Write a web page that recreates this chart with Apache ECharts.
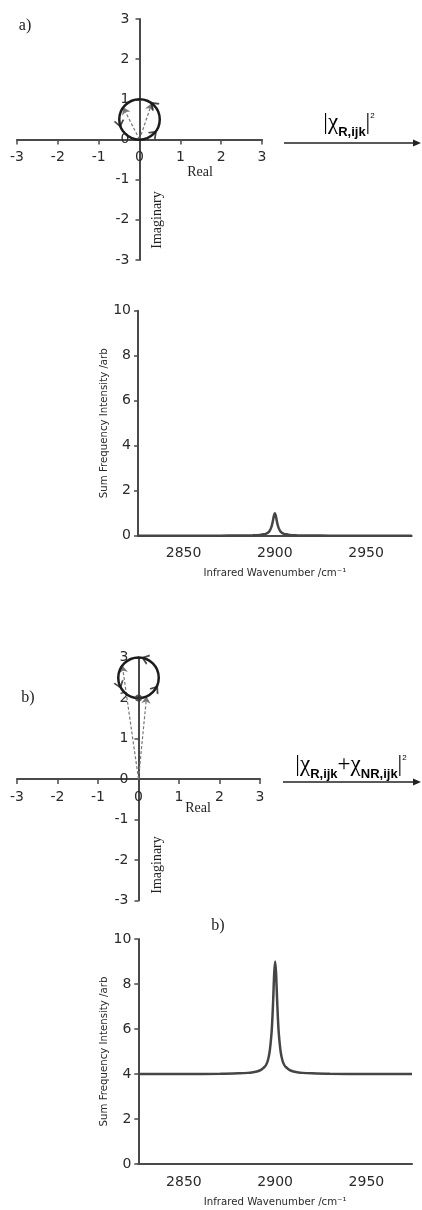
<!DOCTYPE html>
<html><head><meta charset="utf-8">
<script src="https://cdn.jsdelivr.net/npm/echarts@6/dist/echarts.min.js"></script>
<style>html,body{margin:0;padding:0;background:#fff}#c{width:422px;height:1210px}</style>
</head><body><div id="c"></div>
<script>
// ---- data ----
const wavenumber = [2825, 2850, 2870, 2880, 2885, 2888, 2890, 2892, 2894, 2895, 2896, 2897, 2898, 2898.5, 2899, 2899.5, 2900,
  2900.5, 2901, 2901.5, 2902, 2903, 2904, 2905, 2906, 2908, 2910, 2912, 2915, 2920, 2930, 2950, 2975];
const intensityA = [0, 0, 0.003, 0.006, 0.01, 0.015, 0.022, 0.034, 0.06, 0.08, 0.12, 0.2, 0.36, 0.5, 0.69, 0.9, 1.0,
  0.9, 0.69, 0.5, 0.36, 0.2, 0.12, 0.08, 0.06, 0.034, 0.022, 0.015, 0.01, 0.006, 0.003, 0, 0];
const intensityB = [4.0, 4.0, 4.01, 4.03, 4.05, 4.08, 4.11, 4.17, 4.3, 4.4, 4.6, 5.0, 5.8, 6.5, 7.45, 8.5, 9.0,
  8.5, 7.45, 6.5, 5.8, 5.0, 4.6, 4.4, 4.3, 4.17, 4.11, 4.08, 4.05, 4.03, 4.01, 4.0, 4.0];
const xTickLabels = [2850, 2900, 2950];
const yTickLabels = [0, 2, 4, 6, 8, 10];
const argandTicks = [-3, -2, -1, 0, 1, 2, 3];
// circle: [centre real, centre imaginary, radius]
const circleA = [0, 0.5, 0.5];
const circleB = [0, 2.5, 0.5];
// dashed vectors from origin to these points
const vectorsA = [[-0.4, 0.8], [0.3, 0.9]];
const vectorsB = [[-0.4, 2.8], [0.2, 2.04]];
// direction marks on the circle: [real, imaginary, angle]
const chevronsA = [[0.35, 0.86, 46], [-0.49, 0.4, 191], [0.35, 0.14, 314]];
const chevronsB = [[0.17, 2.97, 70], [-0.47, 2.33, 199], [0.42, 2.22, 326]];
const dotB = [[0, 2]];

// ---- chart ----
const chart = echarts.init(document.getElementById('c'), null, {renderer: 'canvas'});
const AX = '#4a4a4a', TXT = '#2a2a2a';
const SANS = 'DejaVu Sans', SERIF = 'Liberation Serif';

function argandX(gi, off) {
  return {gridIndex: gi, type: 'value', min: -3, max: 3, interval: 1, position: 'bottom', offset: off,
    axisLine: {onZero: false, lineStyle: {color: AX, width: 2}},
    axisTick: {length: 5, lineStyle: {color: AX, width: 1.5}},
    axisLabel: {fontFamily: SANS, fontSize: 14, color: TXT, margin: 11,
      customValues: argandTicks},
    splitLine: {show: false}};
}
function argandY(gi, off) {
  return {gridIndex: gi, type: 'value', min: -3, max: 3, interval: 1, position: 'left', offset: off,
    axisLine: {onZero: false, lineStyle: {color: AX, width: 2}},
    axisTick: {length: 4, lineStyle: {color: AX, width: 1.5}},
    axisLabel: {fontFamily: SANS, fontSize: 14, color: TXT, margin: 10, customValues: argandTicks},
    splitLine: {show: false}};
}
function specX(gi) {
  return {gridIndex: gi, type: 'value', min: 2825, max: 2975,
    axisLine: {onZero: false, lineStyle: {color: AX, width: 2}},
    axisTick: {show: false},
    axisLabel: {fontFamily: SANS, fontSize: 14, color: TXT, margin: 11, customValues: xTickLabels,
      formatter: v => String(v)},
    splitLine: {show: false},
    name: 'Infrared Wavenumber /cm\u207B\u00B9', nameLocation: 'middle', nameGap: 33, nameMoveOverlap: false,
    nameTextStyle: {fontFamily: SANS, fontSize: 10.2, color: TXT}};
}
function specY(gi) {
  return {gridIndex: gi, type: 'value', min: 0, max: 10, interval: 2,
    axisLine: {show: true, onZero: false, lineStyle: {color: AX, width: 2}},
    axisTick: {show: true, length: 4, lineStyle: {color: AX, width: 1.5}},
    axisLabel: {fontFamily: SANS, fontSize: 14, color: TXT, margin: 7, customValues: yTickLabels},
    splitLine: {show: false},
    name: 'Sum Frequency Intensity /arb', nameLocation: 'middle', nameGap: 29, nameMoveOverlap: false,
    nameTextStyle: {fontFamily: SANS, fontSize: 10.2, color: TXT}};
}

function circleSeries(ai, circ) {
  return {type: 'custom', xAxisIndex: ai, yAxisIndex: ai, data: [circ], z: 5,
    renderItem: function (params, api) {
      const c = api.coord([api.value(0), api.value(1)]);
      const s = api.size([api.value(2), api.value(2)]);
      return {type: 'circle', shape: {cx: c[0], cy: c[1], r: (s[0] + s[1]) / 2},
        style: {fill: 'none', stroke: '#1c1c1c', lineWidth: 2.5}};
    }};
}
function vectorSeries(ai, vecs) {
  return {type: 'lines', coordinateSystem: 'cartesian2d', xAxisIndex: ai, yAxisIndex: ai, z: 4,
    data: vecs.map(v => ({coords: [[0, 0], v]})),
    symbol: ['none', 'arrow'], symbolSize: 7,
    lineStyle: {type: [3, 2], color: '#777', width: 1.2, opacity: 1}};
}
function chevronSeries(ai, ch) {
  return {type: 'scatter', xAxisIndex: ai, yAxisIndex: ai, z: 6, data: ch,
    symbol: 'path://M0,8 L5,0 L10,8', symbolSize: [9, 6], symbolKeepAspect: false,
    symbolRotate: v => v[2],
    itemStyle: {color: 'rgba(0,0,0,0)', borderColor: '#1c1c1c', borderWidth: 1.6},
    silent: true};
}
function spectrumSeries(ai, ys) {
  return {type: 'line', xAxisIndex: ai, yAxisIndex: ai, showSymbol: false, smooth: 0.3,
    data: wavenumber.map((x, i) => [x, ys[i]]),
    lineStyle: {color: '#454545', width: 2.5}, z: 3};
}

function chiLabel(x, y, text) {
  return {type: 'text', x: x, y: y, style: {text: text, align: 'center', verticalAlign: 'middle',
    rich: {
      m: {fontFamily: 'Liberation Serif', fontSize: 23, color: '#222', lineHeight: 27, verticalAlign: 'top'},
      s: {fontFamily: 'Liberation Sans', fontSize: 13, fontWeight: 'bold', color: '#222', lineHeight: 12,
        verticalAlign: 'bottom'},
      p: {fontFamily: 'Liberation Sans', fontSize: 8, color: '#222', lineHeight: 9, verticalAlign: 'top'}
    }}};
}
function arrow(x1, x2, y) {
  return [
    {type: 'line', shape: {x1: x1, y1: y, x2: x2 - 6, y2: y}, style: {stroke: '#222', lineWidth: 1.6}},
    {type: 'polygon', shape: {points: [[x2, y], [x2 - 8, y - 3.5], [x2 - 8, y + 3.5]]}, style: {fill: '#222'}}
  ];
}
function serifText(x, y, t, size, rot) {
  return {type: 'text', x: x, y: y, rotation: rot || 0,
    style: {text: t, fontFamily: SERIF, fontSize: size, fill: '#222', align: 'center', verticalAlign: 'middle'}};
}

const option = {
  backgroundColor: '#fff',
  animation: false,
  grid: [
    {left: 17, top: 19, width: 245, height: 241},
    {left: 138, top: 310.7, width: 273.7, height: 225},
    {left: 17, top: 657.5, width: 243, height: 243},
    {left: 138.3, top: 939, width: 273.7, height: 225}
  ],
  xAxis: [argandX(0, -120.5), specX(1), argandX(2, -121.5), specX(3)],
  yAxis: [argandY(0, -122.5), specY(1), argandY(2, -121.5), specY(3)],
  series: [
    circleSeries(0, circleA), vectorSeries(0, vectorsA), chevronSeries(0, chevronsA),
    spectrumSeries(1, intensityA),
    circleSeries(2, circleB), vectorSeries(2, vectorsB), chevronSeries(2, chevronsB),
    {type: 'scatter', xAxisIndex: 2, yAxisIndex: 2, data: dotB, symbol: 'circle', symbolSize: 7,
      itemStyle: {color: '#333'}, z: 7},
    spectrumSeries(3, intensityB)
  ],
  graphic: [
    serifText(25, 26, 'a)', 16),
    serifText(28, 698, 'b)', 16),
    serifText(218, 926, 'b)', 16),
    serifText(200, 172, 'Real', 14),
    serifText(157, 220, 'Imaginary', 14, Math.PI / 2),
    serifText(198, 808, 'Real', 14),
    serifText(157, 865, 'Imaginary', 14, Math.PI / 2),
    chiLabel(349, 125, '{m||\u03C7}{s|R,ijk}{m||}{p|2}'),
    chiLabel(351, 767, '{m||\u03C7}{s|R,ijk}{m|+\u03C7}{s|NR,ijk}{m||}{p|2}'),
    ...arrow(284, 421, 143),
    ...arrow(283, 421, 782)
  ]
};
chart.setOption(option);
</script></body></html>
